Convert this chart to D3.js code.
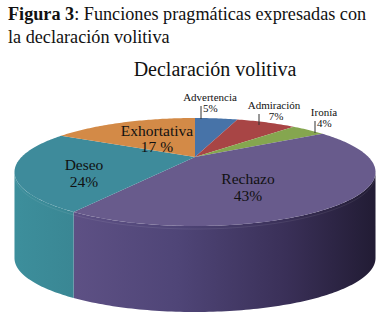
<!DOCTYPE html>
<html><head><meta charset="utf-8">
<script src="https://cdn.jsdelivr.net/npm/d3@7/dist/d3.min.js"></script>
<style>body{margin:0;background:#fff}svg{display:block}text{font-family:"Liberation Serif","Times New Roman",serif;fill:#111}</style>
</head><body><svg id="c" width="388" height="315"></svg>
<script>
const categories = ["Advertencia","Admiración","Ironía","Rechazo","Deseo","Exhortativa"];
const values = [5,7,4,43,24,17];
const valueLabels = ["5%","7%","4%","43%","24%","17 %"];
const topColors = ["#4773a8","#a84545","#85a64f","#685b8c","#3e8b9b","#d38a47"];
const sideColors = ["#3d6592","#8f3a3a","#6f8d42","#5a4e80","#3b8896","#b8763b"];
// label layout (pixel anchors, big = inside labels, small = outside with leader)
const labelLayout = [
  {x:210,y:101,small:true,px:203,py:112,anchor:"start",lx:201,ly1:106,ly2:119},
  {x:274,y:109,small:true,px:276,py:120,anchor:"middle",lx:259,ly1:114,ly2:125},
  {x:324,y:116,small:true,px:317,py:127,anchor:"start",lx:315,ly1:121,ly2:133},
  {x:248,y:184,small:false,px:248,py:201},
  {x:84,y:170,small:false,px:84,py:187},
  {x:157,y:136,small:false,px:157,py:152}
];

const svg = d3.select("#c");
const rad = Math.PI/180;
// perspective projection parameters
const cx = 195, cy0 = 157, D = 3.46, sphi = 0.277, cphi = 0.961, Fx = 600, Fy = 622.7, H = 86;
function proj(r, th){ // th in radians, clockwise from 12 o'clock
  const x = r*Math.sin(th), z = -r*Math.cos(th);
  const depth = D - z*cphi;
  return [cx + Fx*x/depth, cy0 + Fy*z*sphi/depth];
}
const thL = Math.acos(-cphi/D), thR = 2*Math.PI - thL;

const total = d3.sum(values);
const angle = d3.scaleLinear().domain([0,total]).range([0,2*Math.PI]);
let acc = 0;
const slices = values.map((v,i)=>{const s={i,a0:angle(acc),a1:angle(acc+v)};acc+=v;return s;});

function arcPts(a0,a1){const n=Math.max(2,Math.ceil((a1-a0)/rad));return d3.range(n+1).map(k=>proj(1,a0+(a1-a0)*k/n));}
const line = d3.line();

// gradient for sides
const defs = svg.append("defs");
const g1 = defs.append("linearGradient").attr("id","gR").attr("gradientUnits","userSpaceOnUse").attr("x1",70).attr("x2",378).attr("y1",0).attr("y2",0);
[[0,"#5e5185"],[0.35,"#4f4577"],[0.7,"#3a3058"],[1,"#211b33"]].forEach(s=>g1.append("stop").attr("offset",s[0]).attr("stop-color",s[1]));
const g2 = defs.append("linearGradient").attr("id","gD").attr("gradientUnits","userSpaceOnUse").attr("x1",12).attr("x2",72).attr("y1",0).attr("y2",0);
[[0,"#3d8f9c"],[1,"#3a8794"]].forEach(s=>g2.append("stop").attr("offset",s[0]).attr("stop-color",s[1]));

// sides
slices.forEach(s=>{
  const a = Math.max(s.a0,thL), b = Math.min(s.a1,thR);
  if(b<=a) return;
  const top = arcPts(a,b);
  const bot = top.map(p=>[p[0],p[1]+H]).reverse();
  const fill = s.i===3?"url(#gR)":(s.i===4?"url(#gD)":sideColors[s.i]);
  svg.append("path").attr("d",line(top.concat(bot))+"Z").attr("fill",fill);
});
// top faces
slices.forEach(s=>{
  const pts=[proj(0,0)].concat(arcPts(s.a0,s.a1));
  svg.append("path").attr("d",line(pts)+"Z").attr("fill",topColors[s.i]);
});
// subtle highlight line on side
svg.append("path").attr("d",line(arcPts(thL,thR).map(p=>[p[0],p[1]+3]))).attr("fill","none").attr("stroke","#ffffff").attr("stroke-opacity",0.08);

// labels
slices.forEach(s=>{
  const L = labelLayout[s.i];
  const fs = L.small?11:15.5;
  if(L.small){
    svg.append("line").attr("x1",L.lx).attr("x2",L.lx).attr("y1",L.ly1).attr("y2",L.ly2).attr("stroke","#333").attr("stroke-width",1);
  }
  svg.append("text").attr("x",L.x).attr("y",L.y).attr("text-anchor","middle").attr("font-size",fs).text(categories[s.i]);
  svg.append("text").attr("x",L.px).attr("y",L.py).attr("text-anchor",L.small?L.anchor:"middle").attr("font-size",fs).text(valueLabels[s.i]);
});

// titles
const t1 = svg.append("text").attr("x",8).attr("y",20).attr("font-size",18.2);
t1.append("tspan").attr("font-weight","bold").text("Figura 3");
t1.append("tspan").text(": Funciones pragmáticas expresadas con");
svg.append("text").attr("x",8).attr("y",43).attr("font-size",18.2).text("la declaración volitiva");
svg.append("text").attr("x",215).attr("y",76).attr("text-anchor","middle").attr("font-size",20).text("Declaración volitiva");
</script></body></html>
